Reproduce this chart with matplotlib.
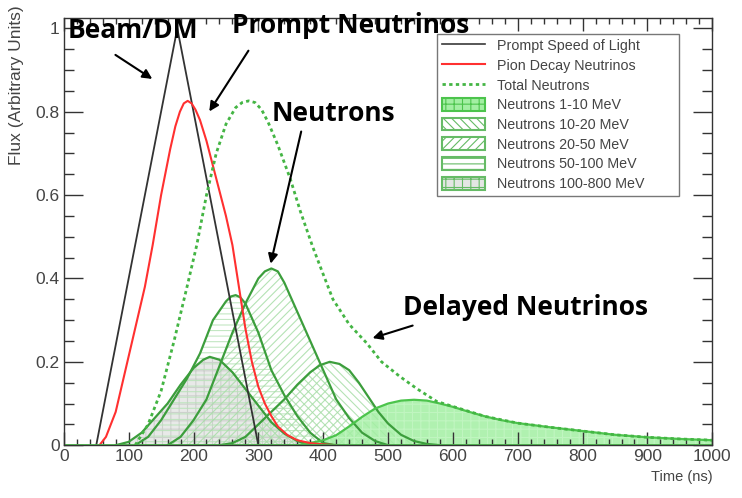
import matplotlib
matplotlib.use("Agg")
import matplotlib.pyplot as plt
from matplotlib.lines import Line2D
from matplotlib.patches import Patch
from matplotlib.ticker import MultipleLocator, FormatStrFormatter

plt.rcParams['font.family'] = ['Liberation Sans', 'DejaVu Sans']
plt.rcParams['hatch.linewidth'] = 0.8

# values (time in ns, flux in arbitrary units)
light_t = [50, 175, 300]
light_f = [0.0, 1.0, 0.0]

pion_t = [55, 65, 80, 95, 110, 125, 137, 150, 164, 172, 179, 185, 191, 197, 203, 210, 220, 230, 240, 250,
          260, 270, 280, 290, 300, 310, 320, 330, 345, 360, 380, 400, 420]
pion_f = [0.0, 0.02, 0.08, 0.18, 0.28, 0.38, 0.48, 0.6, 0.71, 0.765, 0.8, 0.82, 0.826, 0.82, 0.805,
          0.78, 0.73, 0.67, 0.61, 0.55, 0.48, 0.38, 0.28, 0.2, 0.14, 0.1, 0.07, 0.045, 0.024, 0.012,
          0.005, 0.002, 0.0]

total_t = [110, 130, 150, 170, 190, 205, 220, 235, 250, 265, 275, 285, 295, 305, 315, 330, 349, 365,
           384, 400, 415, 440, 467, 490, 518, 545, 575, 600, 650, 700, 750, 800, 850, 900, 950, 1000]
total_f = [0.0, 0.05, 0.13, 0.25, 0.38, 0.48, 0.6, 0.7, 0.77, 0.81, 0.822, 0.826, 0.822, 0.805, 0.775,
           0.72, 0.64, 0.56, 0.475, 0.41, 0.35, 0.29, 0.245, 0.2, 0.165, 0.135, 0.105, 0.093, 0.069,
           0.053, 0.043, 0.034, 0.025, 0.019, 0.015, 0.012]

n1_t = [360, 380, 400, 420, 440, 460, 480, 500, 520, 540, 560, 580, 600, 625, 650, 675, 700, 750,
        800, 850, 900, 950, 1000]
n1_f = [0.0, 0.005, 0.012, 0.024, 0.045, 0.068, 0.088, 0.1, 0.107, 0.109, 0.107, 0.1, 0.092, 0.08,
        0.069, 0.06, 0.053, 0.043, 0.034, 0.025, 0.019, 0.015, 0.012]

n10_t = [240, 260, 280, 300, 320, 340, 360, 380, 395, 410, 425, 440, 455, 470, 485, 500, 520, 540, 560, 580]
n10_f = [0.0, 0.005, 0.02, 0.05, 0.08, 0.11, 0.145, 0.175, 0.192, 0.2, 0.195, 0.18, 0.15, 0.115,
         0.08, 0.052, 0.025, 0.01, 0.003, 0.0]

n20_t = [160, 180, 200, 220, 240, 260, 280, 300, 310, 320, 330, 340, 360, 380, 400, 420, 440, 460, 480, 500]
n20_f = [0.0, 0.02, 0.06, 0.11, 0.19, 0.27, 0.34, 0.4, 0.417, 0.424, 0.417, 0.39, 0.32, 0.25, 0.18,
         0.11, 0.065, 0.03, 0.01, 0.0]

n50_t = [110, 130, 150, 170, 190, 210, 230, 250, 258, 265, 272, 280, 300, 320, 340, 360, 380, 400, 420]
n50_f = [0.0, 0.02, 0.06, 0.11, 0.16, 0.22, 0.3, 0.345, 0.357, 0.36, 0.355, 0.34, 0.27, 0.18, 0.12,
         0.07, 0.03, 0.005, 0.0]

n100_t = [80, 100, 120, 140, 160, 180, 200, 215, 225, 240, 260, 280, 300, 320, 340, 360, 380]
n100_f = [0.0, 0.008, 0.03, 0.065, 0.1, 0.145, 0.185, 0.205, 0.212, 0.205, 0.175, 0.135, 0.095,
          0.055, 0.028, 0.01, 0.0]

legend_labels = ['Prompt Speed of Light', 'Pion Decay Neutrinos', 'Total Neutrons',
                 'Neutrons 1-10 MeV', 'Neutrons 10-20 MeV', 'Neutrons 20-50 MeV',
                 'Neutrons 50-100 MeV', 'Neutrons 100-800 MeV']

edge_green = '#3c9e3c'
fig = plt.figure(figsize=(7.42, 4.98), dpi=100)
ax = fig.add_axes([0.086, 0.106, 0.874, 0.858])

# neutron bands: (t, f, face, hatch, hatch colour)
bands = [
    (n100_t, n100_f, '#e4e6e4', '++', '#c8cdc8'),
    (n50_t, n50_f, 'none', '---', '#b9e3b9'),
    (n20_t, n20_f, 'none', '////', '#a8dda8'),
    (n10_t, n10_f, 'none', '\\\\\\\\', '#a8dda8'),
    (n1_t, n1_f, '#a3efa3', '++', '#c4f6c4'),
]
for t, f, face, hatch, hcol in bands:
    ax.fill_between(t, f, 0, facecolor=face, edgecolor=hcol, hatch=hatch, linewidth=0, alpha=0.85)
for t, f in [(n100_t, n100_f), (n50_t, n50_f), (n20_t, n20_f), (n10_t, n10_f)]:
    ax.plot(t, f, color=edge_green, lw=1.6)
ax.plot(n1_t, n1_f, color='#4cc44c', lw=1.6)

ax.plot(light_t, light_f, color='#333333', lw=1.3)
ax.plot(pion_t, pion_f, color='#ff3030', lw=1.5)
ax.plot(total_t, total_f, color='#44b544', lw=2, ls=(0, (1.2, 1.2)))
ax.axhline(0, color='#4cc44c', lw=2)

ax.set_xlim(0, 1000)
ax.set_ylim(0, 1.025)
ax.xaxis.set_major_locator(MultipleLocator(100))
ax.xaxis.set_minor_locator(MultipleLocator(20))
ax.yaxis.set_major_locator(MultipleLocator(0.2))
ax.yaxis.set_minor_locator(MultipleLocator(0.05))
ax.yaxis.set_major_formatter(FormatStrFormatter('%g'))
ax.tick_params(axis='both', which='both', direction='in', top=True, right=True,
               colors='#333333', labelcolor='#444444', labelsize=12.5, width=1)
ax.tick_params(axis='x', which='major', length=9.2, pad=3)
ax.tick_params(axis='x', which='minor', length=4.6)
ax.tick_params(axis='y', which='major', length=13.9, pad=3)
ax.tick_params(axis='y', which='minor', length=7)
for s in ax.spines.values():
    s.set_color('#333333')
    s.set_linewidth(1)

ax.set_xlabel('Time (ns)', fontsize=10.5, color='#444444', loc='right')
ax.set_ylabel('Flux (Arbitrary Units)', fontsize=12.5, color='#444444', loc='top', labelpad=8)
ax.yaxis.label.set_y(1.03)

handles = [
    Line2D([], [], color='#3a3a3a', lw=1.2),
    Line2D([], [], color='#ff3030', lw=1.5),
    Line2D([], [], color='#44b544', lw=2, ls=(0, (1.2, 1.2))),
    Patch(facecolor='#a3efa3', edgecolor='#4cc44c', hatch='++', lw=1.5),
    Patch(facecolor='white', edgecolor='#66bb66', hatch='\\\\\\\\', lw=1.5),
    Patch(facecolor='white', edgecolor='#66bb66', hatch='////', lw=1.5),
    Patch(facecolor='white', edgecolor='#66bb66', hatch='---', lw=1.5),
    Patch(facecolor='#e4e6e4', edgecolor='#66bb66', hatch='++', lw=1.5),
]
leg = ax.legend(handles, legend_labels, loc='upper left', mode='expand',
                bbox_to_anchor=(0.576, 0.578, 0.372, 0.385),
                borderaxespad=0, fontsize=10.3, frameon=True, fancybox=False,
                handlelength=3.0, handleheight=1.0, labelspacing=0.38, borderpad=0.35)
leg.get_frame().set_edgecolor('#555555')
leg.get_frame().set_linewidth(1)
for txt in leg.get_texts():
    txt.set_color('#444444')

bold = dict(fontsize=19, fontweight='bold', family=['Open Sans', 'DejaVu Sans'], color='black',
            va='baseline')
ax.text(6, 0.976, 'Beam/DM', **bold)
ax.text(259, 0.988, 'Prompt Neutrinos', **bold)
ax.text(321, 0.778, 'Neutrons', **bold)
ax.text(523, 0.313, 'Delayed Neutrinos', **bold)

arrow = dict(arrowstyle='-|>', color='black', lw=1.5, mutation_scale=14)
ax.annotate('', xy=(140, 0.875), xytext=(76, 0.94), arrowprops=arrow)
ax.annotate('', xy=(222, 0.795), xytext=(287, 0.952), arrowprops=arrow)
ax.annotate('', xy=(318, 0.429), xytext=(367, 0.759), arrowprops=arrow)
ax.annotate('', xy=(472, 0.255), xytext=(542, 0.289), arrowprops=arrow)

fig.savefig('out.png', dpi=100)
